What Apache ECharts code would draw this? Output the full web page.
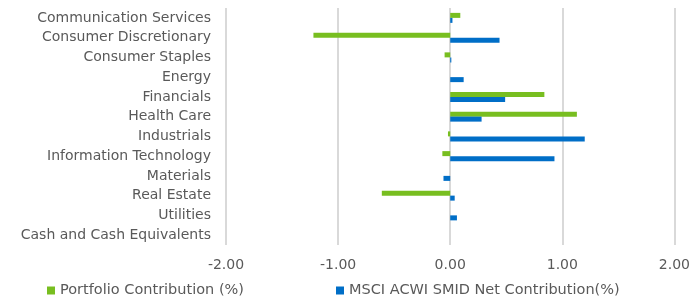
<!DOCTYPE html>
<html><head><meta charset="utf-8">
<script src="https://cdn.jsdelivr.net/npm/echarts@6/dist/echarts.min.js"></script>
<style>html,body{margin:0;padding:0;background:#fff}#c{width:693px;height:300px}</style>
</head><body><div id="c"></div>
<script>
const categories = ["Communication Services","Consumer Discretionary","Consumer Staples","Energy","Financials","Health Care","Industrials","Information Technology","Materials","Real Estate","Utilities","Cash and Cash Equivalents"];
const portfolio = [0.09,-1.22,-0.05,0,0.84,1.13,-0.02,-0.07,0,-0.61,0,0];
const benchmark = [0.02,0.44,0.01,0.12,0.49,0.28,1.20,0.93,-0.06,0.04,0.06,0];
const seriesNames = ["Portfolio Contribution (%)","MSCI ACWI SMID Net Contribution(%)"];
const xTicks = {min:-2, max:2, interval:1};
const font = "'DejaVu Sans', sans-serif";
const chart = echarts.init(document.getElementById('c'));
chart.setOption({
  animation:false,
  grid:{left:226,right:17,top:8,height:237,containLabel:false},
  legend:{top:283,left:47,itemWidth:8,itemHeight:8,itemGap:92,icon:'rect',padding:0,
    textStyle:{color:'#595959',fontSize:14.5,fontFamily:font},
    data:seriesNames},
  xAxis:{type:'value',min:xTicks.min,max:xTicks.max,interval:xTicks.interval,
    axisLine:{show:false},axisTick:{show:false},
    splitLine:{lineStyle:{color:'#d9d9d9',width:2}},
    axisLabel:{formatter:v=>v.toFixed(2),color:'#595959',fontSize:14,fontFamily:font,margin:13}},
  yAxis:{type:'category',data:categories,inverse:true,
    axisLine:{show:false},axisTick:{show:false},
    axisLabel:{color:'#595959',fontSize:14,fontFamily:font,margin:15}},
  series:[
    {name:seriesNames[0],type:'bar',data:portfolio,barWidth:5,barGap:'0%',itemStyle:{color:'#78be20'}},
    {name:seriesNames[1],type:'bar',data:benchmark,barWidth:5,barGap:'0%',itemStyle:{color:'#006ec7'}}
  ]
});
</script></body></html>
